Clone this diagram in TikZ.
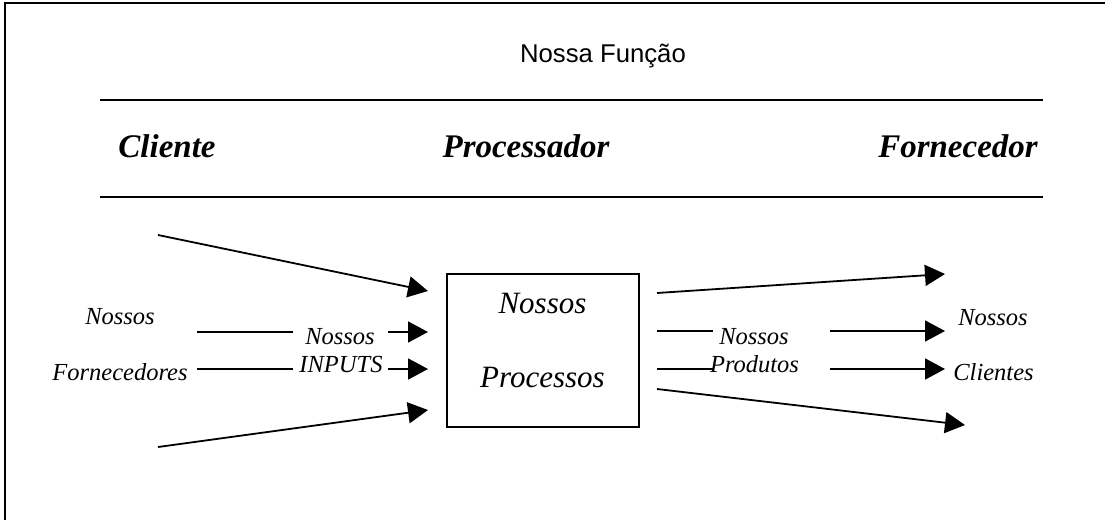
\documentclass[tikz,border=0pt]{standalone}
\usepackage{fontspec}
\setmainfont{Liberation Serif}
\newfontfamily\arialfont{Liberation Sans}
\usetikzlibrary{arrows.meta}
\begin{document}
\begin{tikzpicture}[x=1pt,y=-1pt,
  ln/.style={line width=1.8pt},
  arr/.style={line width=1.8pt,-{Triangle[length=20pt,width=21pt]}},
  lbl/.style={font=\fontsize{24.5}{28}\selectfont\itshape,inner sep=0pt,anchor=base},
  hdr/.style={font=\fontsize{33}{36}\selectfont\bfseries\itshape,inner sep=0pt,anchor=base},
  boxtxt/.style={font=\fontsize{31}{34}\selectfont\itshape,inner sep=0pt,anchor=base}]
\useasboundingbox (0,0) rectangle (1105,520);
% frame
\draw[line width=2.4pt] (5,520) -- (5,3) -- (1105,3);
% title
\node[font=\arialfont\fontsize{25.7}{30}\selectfont,inner sep=0pt,anchor=base] (title) at (603,62) {Nossa Função};
% header lines
\coordinate (h1a) at (100,100); \coordinate (h1b) at (1043,100);
\coordinate (h2a) at (100,197); \coordinate (h2b) at (1043,197);
\draw[ln] (h1a) -- (h1b);
\draw[ln] (h2a) -- (h2b);
\node[hdr] (cli) at (167,157) {Cliente};
\node[hdr] (proc) at (526,157) {Processador};
\node[hdr] (forn) at (958,157) {Fornecedor};
% process box
\node[draw,line width=1.8pt,minimum width=192pt,minimum height=153pt,inner sep=0pt] (box) at (543,350.5) {};
\node[boxtxt] (bt1) at (542.5,313) {Nossos};
\node[boxtxt] (bt2) at (542.5,387) {Processos};
% left labels
\node[lbl] (ln1) at (120,324) {Nossos};
\node[lbl] (ln2) at (120,380) {Fornecedores};
\node[lbl] (li1) at (340,344) {Nossos};
\node[lbl] (li2) at (341,372) {INPUTS};
% left arrows
\coordinate (la1) at (158,235); \coordinate (lt1) at (428,291);
\coordinate (la4) at (158,447); \coordinate (lt4) at (428,410);
\coordinate (la2) at (197,332); \coordinate (lg2a) at (293,332); \coordinate (lg2b) at (388,332); \coordinate (lt2) at (428,332);
\coordinate (la3) at (197,369); \coordinate (lg3a) at (293,369); \coordinate (lg3b) at (388,369); \coordinate (lt3) at (428,369);
\draw[arr] (la1) -- (lt1);
\draw[arr] (la4) -- (lt4);
\draw[ln] (la2) -- (lg2a); \draw[arr] (lg2b) -- (lt2);
\draw[ln] (la3) -- (lg3a); \draw[arr] (lg3b) -- (lt3);
% right labels
\node[lbl] (rp1) at (754,344) {Nossos};
\node[lbl] (rp2) at (754.5,372) {Produtos};
\node[lbl] (rc1) at (993,325) {Nossos};
\node[lbl] (rc2) at (993.5,380) {Clientes};
% right arrows
\coordinate (ra1) at (657,293); \coordinate (rt1) at (945,274);
\coordinate (ra4) at (657,389); \coordinate (rt4) at (965,425);
\coordinate (ra2) at (657,331); \coordinate (rg2a) at (713,331); \coordinate (rg2b) at (830,331); \coordinate (rt2) at (945,331);
\coordinate (ra3) at (657,369); \coordinate (rg3a) at (713,369); \coordinate (rg3b) at (830,369); \coordinate (rt3) at (945,369);
\draw[arr] (ra1) -- (rt1);
\draw[arr] (ra4) -- (rt4);
\draw[ln] (ra2) -- (rg2a); \draw[arr] (rg2b) -- (rt2);
\draw[ln] (ra3) -- (rg3a); \draw[arr] (rg3b) -- (rt3);
\end{tikzpicture}
\end{document}
